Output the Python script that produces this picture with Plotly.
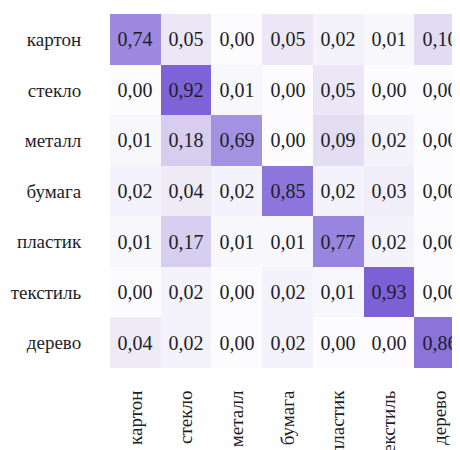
import plotly.graph_objects as go

labels = ["картон", "стекло", "металл", "бумага", "пластик", "текстиль", "дерево"]

row_картон = [0.74, 0.05, 0.00, 0.05, 0.02, 0.01, 0.10]
row_стекло = [0.00, 0.92, 0.01, 0.00, 0.05, 0.00, 0.00]
row_металл = [0.01, 0.18, 0.69, 0.00, 0.09, 0.02, 0.00]
row_бумага = [0.02, 0.04, 0.02, 0.85, 0.02, 0.03, 0.00]
row_пластик = [0.01, 0.17, 0.01, 0.01, 0.77, 0.02, 0.00]
row_текстиль = [0.00, 0.02, 0.00, 0.02, 0.01, 0.93, 0.00]
row_дерево = [0.04, 0.02, 0.00, 0.02, 0.00, 0.00, 0.86]

z = [row_картон, row_стекло, row_металл, row_бумага, row_пластик, row_текстиль, row_дерево]

colorscale = [
    [0.0, "#fcfbfe"],
    [0.02, "#f4f2fa"],
    [0.05, "#ebe7f6"],
    [0.10, "#e1dbf3"],
    [0.18, "#d6cdef"],
    [0.69, "#a392e2"],
    [0.74, "#9d8ae0"],
    [0.85, "#8c76db"],
    [0.93, "#7b60d6"],
    [1.0, "#7357d3"],
]

fig = go.Figure(go.Heatmap(
    z=z, x=labels, y=labels,
    zmin=0, zmax=1, colorscale=colorscale, showscale=False,
    texttemplate="%{z:.2f}",
    textfont=dict(family="Liberation Serif", size=20, color="#1e1e28"),
    hoverinfo="skip",
))

fig.update_layout(
    width=460, height=450,
    margin=dict(l=102, r=8, t=6, b=90),
    paper_bgcolor="white", plot_bgcolor="white",
    separators=", ",
    font=dict(family="Liberation Serif", size=19, color="#1e1e28"),
)
fig.update_xaxes(range=[-0.5, 6.4], tickangle=-90, showgrid=False, zeroline=False,
                 automargin=False, ticks="outside", ticklen=14, tickcolor="rgba(0,0,0,0)",
                 tickfont=dict(family="Times New Roman", size=19))
fig.update_yaxes(autorange="reversed", showgrid=False, zeroline=False,
                 automargin=False, ticks="outside", ticklen=24, tickcolor="rgba(0,0,0,0)",
                 tickfont=dict(family="Times New Roman", size=19))

fig.write_html("out.html")
